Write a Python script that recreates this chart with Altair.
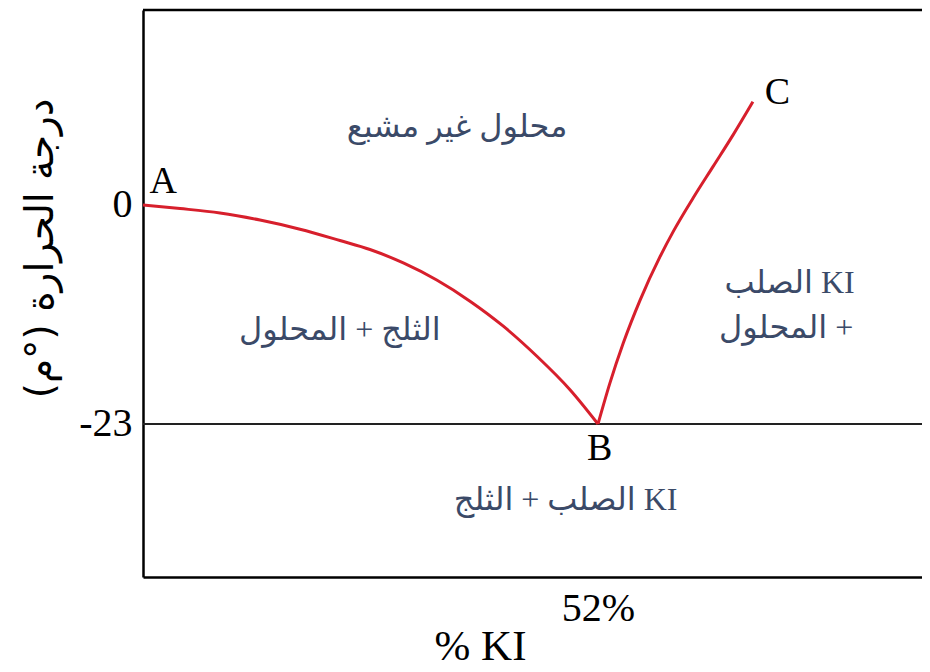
import altair as alt
import pandas as pd

# Liquidus branch A -> B (ice + solution boundary), % KI vs temperature
ab_x = [0.0, 4.23, 8.8, 13.37, 17.94, 22.51, 25.94, 29.75, 33.57, 37.37, 41.18, 44.99, 48.8, 52.0]
ab_y = [0.0, -0.37, -0.84, -1.58, -2.54, -3.73, -4.67, -6.09, -7.88, -10.10, -12.73, -15.86, -19.40, -23.0]
# Solubility branch B -> C (solid KI + solution boundary)
bc_x = [52.0, 53.37, 54.89, 56.80, 59.09, 60.61, 62.89, 65.18, 67.46, 69.71]
bc_y = [-23.0, -18.68, -14.5, -10.01, -5.43, -2.77, 0.76, 4.08, 7.39, 10.85]

eutectic_temp = [-23]
x_ticks = [52]
y_ticks = [0, -23]

point_names = ["A", "B", "C"]
point_x = [2.3, 52.2, 72.5]
point_y = [2.4, -25.6, 11.8]

region_texts = ["محلول غير مشبع", "الثلج + المحلول", "KI الصلب", "+ المحلول", "KI الصلب + الثلج"]
region_x = [35.9, 22.5, 73.9, 73.5, 48.3]
region_y = [8.2, -13.1, -8.2, -12.9, -31.0]

x_title = "% KI"
y_title = "درجة الحرارة (°م)"

RLE, PDF = "\u202b", "\u202c"

W, H = 779, 567
x_dom = [0, 89.03]
y_dom = [-39.07, 20.48]

SERIF = "Liberation Serif"
MIXED = "Liberation Serif, DejaVu Sans"
ARABIC = "DejaVu Sans"
LABEL_COLOR = "#3b4a68"
RED = "#d71f2c"

lines = pd.DataFrame({
    "x": ab_x + bc_x,
    "y": ab_y + bc_y,
    "branch": ["AB"] * len(ab_x) + ["BC"] * len(bc_x),
})
points = pd.DataFrame({"name": point_names, "x": point_x, "y": point_y})
regions = pd.DataFrame({"label": [RLE + t + PDF for t in region_texts], "x": region_x, "y": region_y})
eut = pd.DataFrame({"y": eutectic_temp})

xs = alt.Scale(domain=x_dom, nice=False, zero=False)
ys = alt.Scale(domain=y_dom, nice=False, zero=False)

x_axis = alt.Axis(
    values=x_ticks, labelExpr="datum.value + '%'", ticks=False, tickSize=0, grid=False,
    domainColor="black", domainWidth=2.5,
    labelFont=SERIF, labelFontSize=40, labelColor="black", labelPadding=31,
    labelBaseline="middle", labelFlush=False,
    title=x_title, titleFont=SERIF, titleFontSize=43, titleFontWeight="normal",
    titleColor="black", titleX=337, titleY=69, titleBaseline="middle", titleAlign="center",
)
y_axis = alt.Axis(
    values=y_ticks, labelExpr="'' + datum.value", ticks=False, tickSize=0, grid=False,
    domainColor="black", domainWidth=2.5,
    labelFont=SERIF, labelFontSize=40, labelColor="black", labelPadding=11,
    labelBaseline="middle", labelFlush=False,
    title=RLE + y_title + PDF, titleFont=ARABIC, titleFontSize=39, titleFontWeight="normal",
    titleColor="black", titleX=-103, titleY=238, titleBaseline="middle", titleAlign="center",
    titleAngle=270,
)

curves = alt.Chart(lines).mark_line(color=RED, strokeWidth=3, interpolate="monotone").encode(
    x=alt.X("x:Q", scale=xs, axis=x_axis),
    y=alt.Y("y:Q", scale=ys, axis=y_axis),
    detail="branch:N",
)

eut_rule = alt.Chart(eut).mark_rule(color="#222222", strokeWidth=2.2).encode(
    y=alt.Y("y:Q", scale=ys),
    x=alt.value(0), x2=alt.value(W),
)

top_rule = alt.Chart(eut).mark_rule(color="black", strokeWidth=2.5).encode(
    y=alt.value(0), x=alt.value(0), x2=alt.value(W),
)

pt_text = alt.Chart(points).mark_text(font=SERIF, fontSize=38, color="black", baseline="middle", align="center").encode(
    x=alt.X("x:Q", scale=xs), y=alt.Y("y:Q", scale=ys), text="name:N",
)

reg_text = alt.Chart(regions).mark_text(font=MIXED, fontSize=32, color=LABEL_COLOR, baseline="middle", align="center").encode(
    x=alt.X("x:Q", scale=xs), y=alt.Y("y:Q", scale=ys), text="label:N",
)

chart = alt.layer(eut_rule, top_rule, curves, pt_text, reg_text).properties(
    width=W, height=H,
    autosize=alt.AutoSizeParams(type="none"),
    padding={"left": 135, "top": 2, "right": 0, "bottom": 91},
).configure_view(stroke=None).configure(background="white")

chart.save("out.html", embed_options={"renderer": "svg", "actions": False})
